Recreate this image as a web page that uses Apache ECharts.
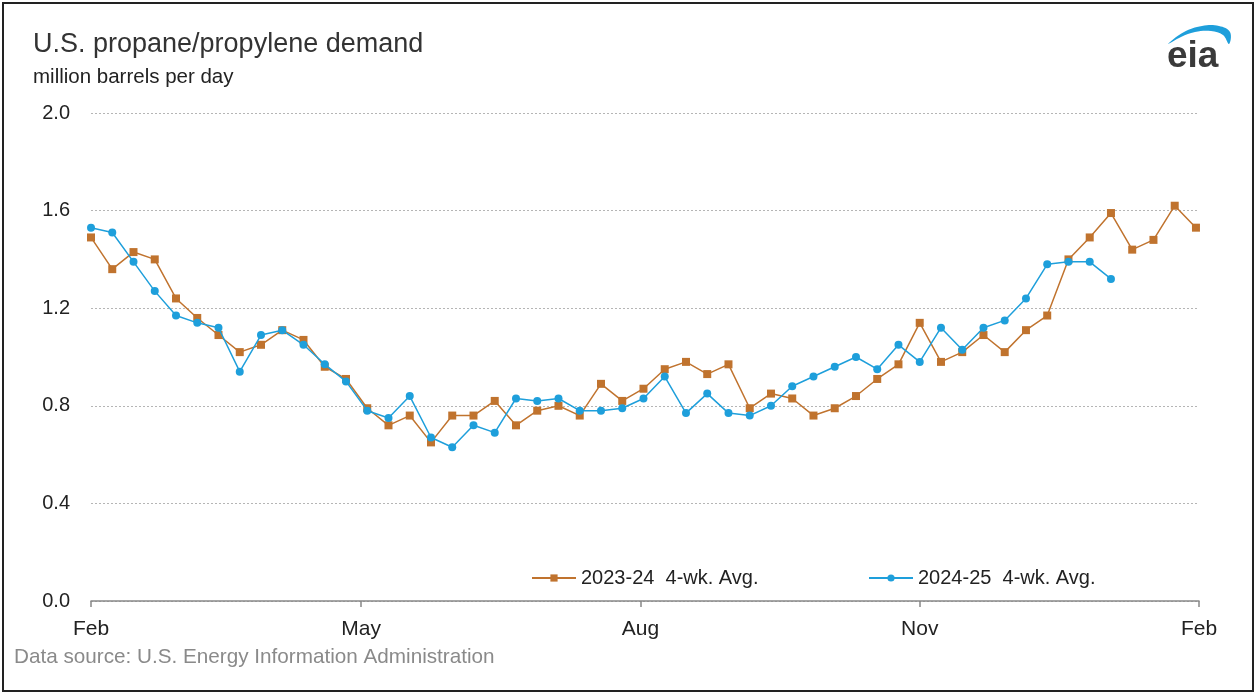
<!DOCTYPE html>
<html>
<head>
<meta charset="utf-8">
<title>U.S. propane/propylene demand</title>
<script src="https://cdn.jsdelivr.net/npm/echarts@6/dist/echarts.min.js"></script>
<style>
  html, body { margin: 0; padding: 0; background: #fff; }
  #frame {
    position: absolute; left: 2px; top: 2px;
    width: 1248px; height: 686px;
    border: 2px solid #222; box-sizing: content-box;
  }
  #chart { position: absolute; left: 0; top: 0; width: 1256px; height: 696px; }
</style>
</head>
<body>
<div id="frame"></div>
<div id="chart"></div>
<script>
// days since Feb 1, one point per week
const weekDays = [0, 7, 14, 21, 28, 35, 42, 49, 56, 63, 70, 77, 84, 91, 98, 105, 112, 119, 126, 133,
  140, 147, 154, 161, 168, 175, 182, 189, 196, 203, 210, 217, 224, 231, 238, 245, 252, 259, 266, 273,
  280, 287, 294, 301, 308, 315, 322, 329, 336, 343, 350, 357, 364];

// 2023-24 4-wk. Avg. (million barrels per day)
const demand2324 = [1.49, 1.36, 1.43, 1.40, 1.24, 1.16, 1.09, 1.02, 1.05, 1.11,
  1.07, 0.96, 0.91, 0.79, 0.72, 0.76, 0.65, 0.76, 0.76, 0.82,
  0.72, 0.78, 0.80, 0.76, 0.89, 0.82, 0.87, 0.95, 0.98, 0.93,
  0.97, 0.79, 0.85, 0.83, 0.76, 0.79, 0.84, 0.91, 0.97, 1.14,
  0.98, 1.02, 1.09, 1.02, 1.11, 1.17, 1.40, 1.49, 1.59, 1.44,
  1.48, 1.62, 1.53];

// 2024-25 4-wk. Avg.
const demand2425 = [1.53, 1.51, 1.39, 1.27, 1.17, 1.14, 1.12, 0.94, 1.09, 1.11,
  1.05, 0.97, 0.90, 0.78, 0.75, 0.84, 0.67, 0.63, 0.72, 0.69,
  0.83, 0.82, 0.83, 0.78, 0.78, 0.79, 0.83, 0.92, 0.77, 0.85,
  0.77, 0.76, 0.80, 0.88, 0.92, 0.96, 1.00, 0.95, 1.05, 0.98,
  1.12, 1.03, 1.12, 1.15, 1.24, 1.38, 1.39, 1.39, 1.32];

// month ticks on the x axis
const monthDays = [0, 89, 181, 273, 365];
const monthLabels = ['Feb', 'May', 'Aug', 'Nov', 'Feb'];

const ORANGE = '#C0732E';
const BLUE = '#1E9FDB';
const FONT = '"Liberation Sans", Arial, sans-serif';

const pairs = (vals) => vals.map((v, i) => [weekDays[i], v]);

const chart = echarts.init(document.getElementById('chart'));

const option = {
  animation: false,
  textStyle: { fontFamily: FONT },
  title: [
    {
      text: 'U.S. propane/propylene demand',
      left: 28, top: 26,
      textStyle: { fontSize: 27, fontWeight: 'normal', color: '#333', fontFamily: FONT }
    },
    {
      text: 'million barrels per day',
      left: 28, top: 62,
      textStyle: { fontSize: 20.5, fontWeight: 'normal', color: '#222', fontFamily: FONT }
    },
    {
      text: 'Data source: U.S. Energy Information Administration',
      left: 9, top: 642,
      textStyle: { fontSize: 20.7, fontWeight: 'normal', color: '#8a8a8a', fontFamily: FONT }
    }
  ],
  legend: [
    {
      data: ['2023-24  4-wk. Avg.'],
      left: 526, top: 563,
      itemWidth: 44, itemHeight: 9,
      textStyle: { fontSize: 20, color: '#222', fontFamily: FONT }
    },
    {
      data: ['2024-25  4-wk. Avg.'],
      left: 863, top: 563,
      itemWidth: 44, itemHeight: 9,
      textStyle: { fontSize: 20, color: '#222', fontFamily: FONT }
    }
  ],
  grid: { left: 91, right: 57, top: 113, bottom: 95 },
  xAxis: {
    type: 'value',
    min: 0, max: 365,
    axisLine: { show: true, lineStyle: { color: '#888', width: 1.5 } },
    axisTick: {
      show: true, length: 6,
      customValues: monthDays,
      lineStyle: { color: '#888', width: 1.5 }
    },
    axisLabel: {
      customValues: monthDays,
      formatter: (v) => monthLabels[monthDays.indexOf(v)],
      fontSize: 21, color: '#222', margin: 18, fontFamily: FONT
    },
    splitLine: { show: false }
  },
  yAxis: {
    type: 'value',
    min: 0, max: 2.0, interval: 0.4,
    axisLine: { show: false },
    axisTick: { show: false },
    axisLabel: {
      formatter: (v) => v.toFixed(1),
      fontSize: 20, color: '#222', margin: 21, fontFamily: FONT
    },
    splitLine: { show: true, lineStyle: { color: '#b5b5b5', type: [2, 2], width: 1 } }
  },
  series: [
    {
      name: '2023-24  4-wk. Avg.',
      type: 'line',
      data: pairs(demand2324),
      symbol: 'rect', symbolSize: 8,
      showAllSymbol: true,
      lineStyle: { color: ORANGE, width: 1.5 },
      itemStyle: { color: ORANGE },
      z: 2
    },
    {
      name: '2024-25  4-wk. Avg.',
      type: 'line',
      data: pairs(demand2425),
      symbol: 'circle', symbolSize: 8,
      showAllSymbol: true,
      lineStyle: { color: BLUE, width: 1.5 },
      itemStyle: { color: BLUE },
      z: 3
    }
  ],
  graphic: [
    {
      type: 'text', left: 1167, top: 38,
      style: { text: 'eia', fontSize: 37, fontWeight: 'bold', fill: '#3a3a3a', fontFamily: FONT }
    },
    {
      type: 'polygon',
      shape: {
        points: [[1168, 44], [1184, 32], [1202, 26], [1219, 26], [1230, 32], [1229, 44],
                 [1223, 35], [1211, 31], [1195, 32], [1181, 37]],
        smooth: 0.4
      },
      style: { fill: BLUE }
    }
  ]
};

chart.setOption(option);
window.addEventListener('resize', () => chart.resize());
</script>
</body>
</html>
